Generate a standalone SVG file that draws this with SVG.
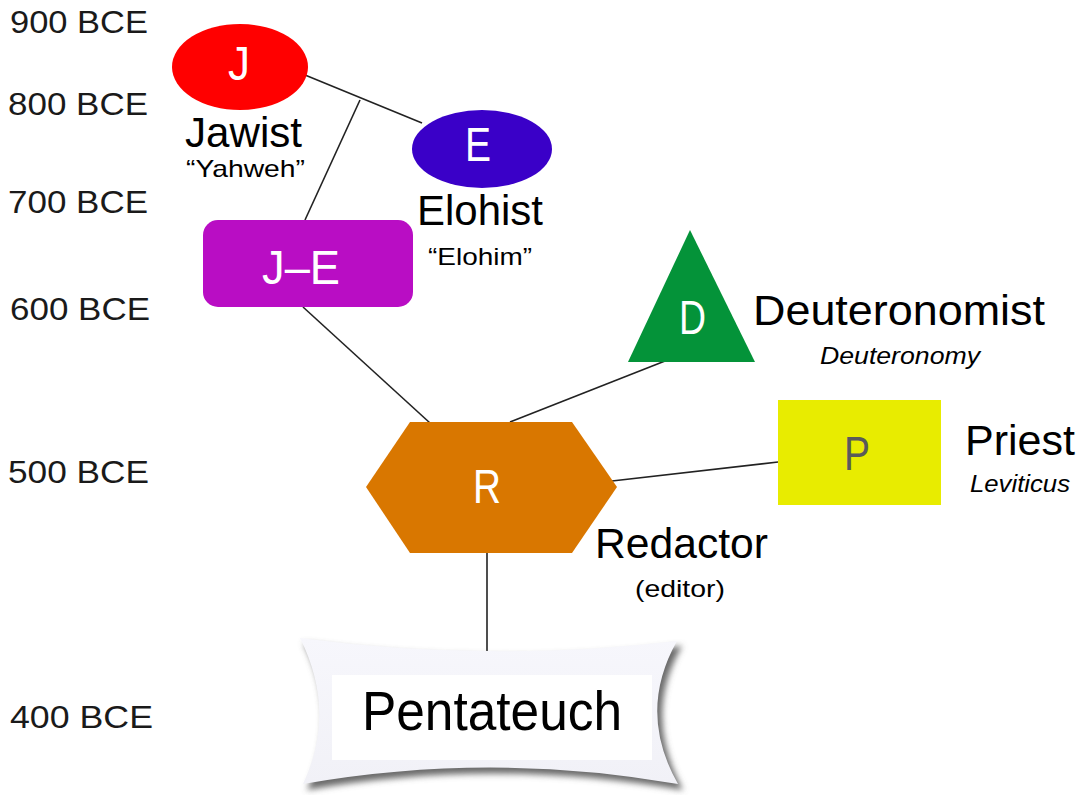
<svg xmlns="http://www.w3.org/2000/svg" width="1077" height="795" viewBox="0 0 1077 795">
<style>
.axis{font-family:"Liberation Sans",Arial,sans-serif;font-size:31px;fill:#1a1a1a}
.big{font-family:"Liberation Sans",Arial,sans-serif;font-size:42px;fill:#000}
.sub{font-family:"Liberation Sans",Arial,sans-serif;font-size:24px;fill:#000}
.it{font-style:italic}
.let{font-family:"Liberation Sans",Arial,sans-serif;font-size:48px;fill:#fff}
.conn line{stroke:#222;stroke-width:1.6}
</style>
<defs>
<filter id="sh" x="-10%" y="-10%" width="130%" height="130%">
<feGaussianBlur stdDeviation="3"/>
</filter>
<linearGradient id="scroll" x1="0" y1="0" x2="0" y2="1">
<stop offset="0" stop-color="#f7f7fc"/>
<stop offset="1" stop-color="#f1f1f7"/>
</linearGradient>
</defs>
<rect width="1077" height="795" fill="#fff"/>
<g id="axis">
<text class="axis" x="10" y="33" textLength="138" lengthAdjust="spacingAndGlyphs">900 BCE</text>
<text class="axis" x="8" y="115" textLength="140" lengthAdjust="spacingAndGlyphs">800 BCE</text>
<text class="axis" x="8" y="213" textLength="140" lengthAdjust="spacingAndGlyphs">700 BCE</text>
<text class="axis" x="10" y="320" textLength="140" lengthAdjust="spacingAndGlyphs">600 BCE</text>
<text class="axis" x="8" y="483" textLength="141" lengthAdjust="spacingAndGlyphs">500 BCE</text>
<text class="axis" x="10" y="728" textLength="143" lengthAdjust="spacingAndGlyphs">400 BCE</text>
</g>
<g class="conn" id="connectors">
<line x1="305" y1="75" x2="422" y2="123"/>
<line x1="360" y1="100" x2="305" y2="220"/>
<line x1="303" y1="307" x2="430" y2="423"/>
<line x1="510" y1="422" x2="665" y2="361"/>
<line x1="612" y1="481" x2="778" y2="462"/>
<line x1="487" y1="553" x2="487" y2="653"/>
</g>
<g id="node-J">
<ellipse cx="240" cy="67" rx="68" ry="43" fill="#ff0000"/>
<text class="let" x="228" y="80" textLength="22" lengthAdjust="spacingAndGlyphs">J</text>
<text class="big" x="185" y="147" textLength="117" lengthAdjust="spacingAndGlyphs">Jawist</text>
<text class="sub" x="186" y="177" textLength="119" lengthAdjust="spacingAndGlyphs">“Yahweh”</text>
</g>
<g id="node-E">
<ellipse cx="482" cy="149" rx="70" ry="39" fill="#3a00c8"/>
<text class="let" x="465" y="161" textLength="26" lengthAdjust="spacingAndGlyphs">E</text>
<text class="big" x="417" y="225" textLength="126" lengthAdjust="spacingAndGlyphs">Elohist</text>
<text class="sub" x="428" y="265" textLength="104" lengthAdjust="spacingAndGlyphs">“Elohim”</text>
</g>
<g id="node-JE">
<rect x="203" y="220" width="210" height="87" rx="15" fill="#b90dc4"/>
<text class="let" x="262" y="284" textLength="78" lengthAdjust="spacingAndGlyphs">J–E</text>
</g>
<g id="node-D">
<polygon points="690,230 755,362 628,362" fill="#049339"/>
<text class="let" x="679" y="334" textLength="27" lengthAdjust="spacingAndGlyphs">D</text>
<text class="big" x="753" y="325" textLength="292" lengthAdjust="spacingAndGlyphs">Deuteronomist</text>
<text class="sub it" x="820" y="364" textLength="160" lengthAdjust="spacingAndGlyphs">Deuteronomy</text>
</g>
<g id="node-P">
<rect x="778" y="400" width="163" height="105" fill="#e8ec00"/>
<text class="let" x="844" y="470" textLength="26" lengthAdjust="spacingAndGlyphs" style="fill:#5a5a5a">P</text>
<text class="big" x="965" y="455" textLength="110" lengthAdjust="spacingAndGlyphs">Priest</text>
<text class="sub it" x="970" y="492" textLength="100" lengthAdjust="spacingAndGlyphs">Leviticus</text>
</g>
<g id="node-R">
<polygon points="366,487 410,422 572,422 617,487 572,553 410,553" fill="#d97700"/>
<text class="let" x="473" y="503" textLength="28" lengthAdjust="spacingAndGlyphs">R</text>
<text class="big" x="595" y="558" textLength="173" lengthAdjust="spacingAndGlyphs">Redactor</text>
<text class="sub" x="635" y="597" textLength="90" lengthAdjust="spacingAndGlyphs">(editor)</text>
</g>
<g id="node-Pentateuch">
<path d="M302,640 Q490,665 680,643 Q640,712 681,787 Q490,754 305,787 Q339,712 302,640 Z" fill="#6a6a6a" filter="url(#sh)" transform="translate(2,3)"/>
<path d="M300,638 Q490,663 677,641 Q637,712 678,784 Q490,751 303,784 Q337,712 300,638 Z" fill="url(#scroll)"/>
<rect x="332" y="675" width="320" height="85" fill="#fff"/>
<text x="362" y="730" font-family="'Liberation Sans',Arial,sans-serif" font-size="56" fill="#000" textLength="260" lengthAdjust="spacingAndGlyphs">Pentateuch</text>
</g>
</svg>
